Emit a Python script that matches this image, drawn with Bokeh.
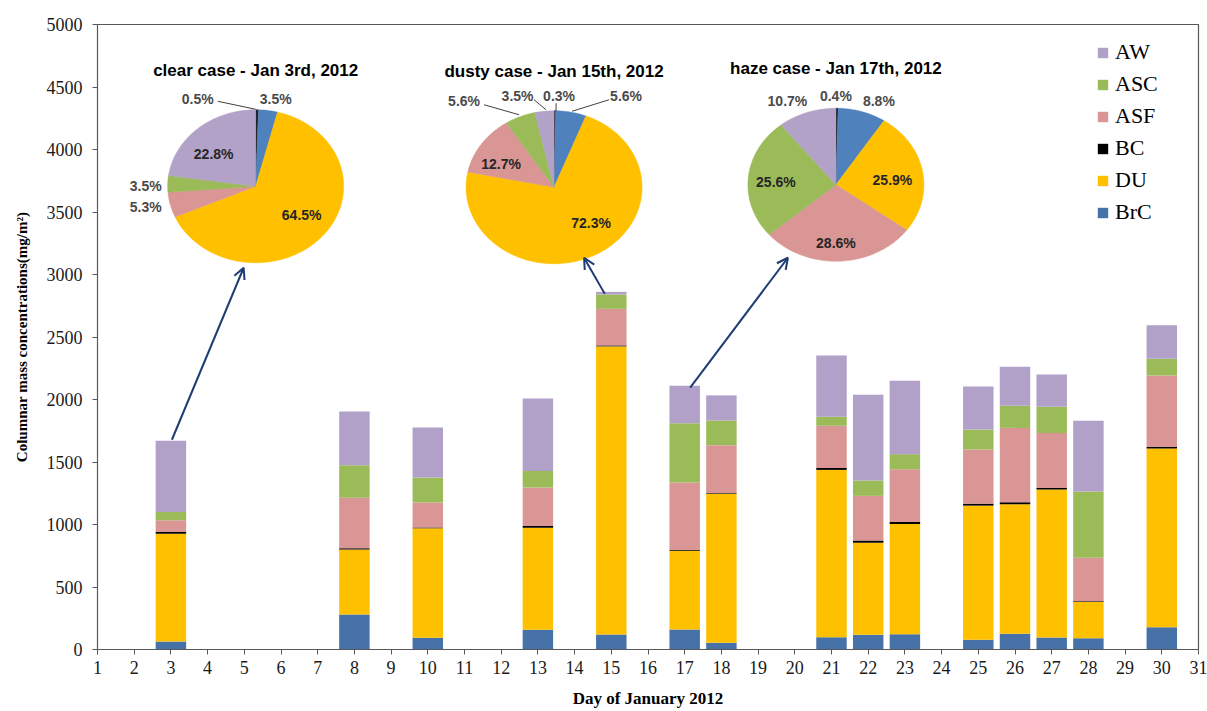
import numpy as np
from bokeh.plotting import figure
from bokeh.models import (ColumnDataSource, Range1d, FixedTicker, Legend, LegendItem,
                          Arrow, OpenHead)
from bokeh.core.properties import value
from bokeh.embed import file_html
from bokeh.resources import INLINE

# ---------------- data ----------------
days = [3, 8, 10, 13, 15, 17, 18, 21, 22, 23, 25, 26, 27, 28, 30]
BrC = [64, 280, 95, 158, 120, 160, 54, 99, 118, 123, 78, 126, 96, 91, 179]
DU = [863, 520, 875, 817, 2305, 630, 1193, 1338, 737, 881, 1073, 1036, 1184, 290, 1429]
BC = [13, 10, 6, 13, 8, 6, 5, 16, 18, 16, 16, 16, 13, 5, 13]
ASF = [94, 405, 200, 308, 292, 540, 383, 337, 356, 422, 433, 595, 440, 348, 572]
ASC = [66, 260, 200, 133, 115, 475, 197, 72, 123, 121, 160, 177, 209, 531, 133]
AW = [570, 430, 400, 580, 21, 300, 201, 491, 686, 587, 345, 312, 259, 565, 268]

species = ["BrC", "DU", "BC", "ASF", "ASC", "AW"]
bar_colors = ["#4672A8", "#FFC000", "#000000", "#D99694", "#9BBB59", "#B1A0C7"]

x_ticks = list(range(1, 32))
y_ticks = list(range(0, 5001, 500))

# pie charts (clockwise from 12 o'clock)
pie_order = ["BC", "BrC", "DU", "ASF", "ASC", "AW"]
pie_colors = ["#1A1A1A", "#4F81BD", "#FFC000", "#D99694", "#9BBB59", "#B3A2C7"]
pie_titles = ["clear case - Jan 3rd, 2012", "dusty case - Jan 15th, 2012",
              "haze case - Jan 17th, 2012"]
pie_days = [3, 15, 17]
clear_pct = [0.5, 3.5, 64.5, 5.3, 3.5, 22.8]
dusty_pct = [0.3, 5.6, 72.3, 12.7, 5.6, 3.5]
haze_pct = [0.4, 8.8, 25.9, 28.6, 25.6, 10.7]
pie_pcts = [clear_pct, dusty_pct, haze_pct]

# ---------------- layout constants ----------------
W, H = 1207, 711
BL, BR, BT, BB = 97, 9, 24, 62
FW, FH = W - BL - BR, H - BT - BB
X0, X1, Y0, Y1 = 1, 31, 0, 5000
DX = (X1 - X0) / FW      # days per px
DY = (Y1 - Y0) / FH      # units per px

def px(cx, cy, ox, oy):
    """offset in screen px (y downward) from a data point -> data coords"""
    return cx + ox * DX, cy - oy * DY

pie_centers = [(5.31, 3706), (13.44, 3698), (21.12, 3718)]
RX, RY = 88, 76.5

# label offsets (px) per pie, in pie_order
label_offsets = [
    [(-58, -87), (20, -87.5), (46, 29), (-110, 21), (-110, -0.5), (-42, -32.5)],
    [(5, -91.5), (72, -91), (37, 36), (-53, -23.5), (-90, -86), (-36.5, -91)],
    [(0, -88.5), (43, -83.5), (56.5, -5), (0, 58), (-60, -2.5), (-48.5, -83.5)],
]
inside_flags = [
    [False, False, True, False, False, True],
    [False, False, True, True, False, False],
    [False, False, True, True, True, False],
]
leaders = [
    [((-38, -85), (0, -77))],
    [((2, -84), (2, -76)), ((55, -87.5), (18, -76)), ((-70, -82.5), (-35, -72.5)),
     ((-20, -87.5), (-8, -77.5))],
    [],
]
arrow_start_off = [(1, -1), (-6.5, 2), (5.5, 2)]
arrow_end_off = [(-12, 81.5), (30, 70.5), (-48, 73)]

# ---------------- figure ----------------
p = figure(width=W, height=H, output_backend="svg", toolbar_location=None,
           x_range=Range1d(X0, X1), y_range=Range1d(Y0, Y1),
           min_border_left=BL, min_border_right=BR, min_border_top=BT,
           min_border_bottom=BB)
p.xgrid.visible = False
p.ygrid.visible = False
p.outline_line_color = "#595959"
p.outline_line_width = 1.2
p.background_fill_color = "white"
p.border_fill_color = "white"

src = ColumnDataSource(dict(day=days, BrC=BrC, DU=DU, BC=BC, ASF=ASF, ASC=ASC, AW=AW))
rends = p.vbar_stack(species, x="day", width=0.83, source=src,
                     color=bar_colors, line_color=None)

# axes
for ax in (p.xaxis[0], p.yaxis[0]):
    ax.axis_line_color = "#595959"
    ax.major_tick_line_color = "#595959"
    ax.major_tick_in = 0
    ax.major_tick_out = 5
    ax.minor_tick_line_color = None
    ax.major_label_text_font = "Liberation Serif"
    ax.major_label_text_font_size = "18px"
    ax.major_label_text_color = "#1a1a1a"
    ax.axis_label_text_font = "Liberation Serif"
    ax.axis_label_text_font_style = "bold"
    ax.axis_label_text_color = "black"

p.xaxis.ticker = FixedTicker(ticks=x_ticks)
p.yaxis.ticker = FixedTicker(ticks=y_ticks)
p.xaxis.axis_label = "Day of January 2012"
p.xaxis.axis_label_text_font_size = "17px"
p.xaxis.major_label_standoff = 6
p.xaxis.axis_label_standoff = 12
p.yaxis.axis_label = "Columnar mass concentrations(mg/m²)"
p.yaxis.axis_label_text_font_size = "15px"
p.yaxis.major_label_standoff = 10
p.yaxis.axis_label_standoff = 14

# legend
items = [LegendItem(label=species[i], renderers=[rends[i]]) for i in range(5, -1, -1)]
leg = Legend(items=items, location=(999, 424), orientation="vertical",
             padding=0, margin=0, spacing=6, label_height=25,
             glyph_width=13, glyph_height=13, label_standoff=6,
             border_line_color=None, background_fill_alpha=0,
             label_text_font="Liberation Serif", label_text_font_size="22px",
             label_text_color="black")
p.add_layout(leg)

# pies
for k in range(3):
    cx, cy = pie_centers[k]
    pct = np.array(pie_pcts[k], dtype=float)
    frac = pct / pct.sum()
    edges = np.concatenate([[0], np.cumsum(frac)])
    xs, ys = [], []
    for i in range(len(frac)):
        f = np.linspace(edges[i], edges[i + 1], max(4, int(frac[i] * 240)))
        th = np.pi / 2 - 2 * np.pi * f
        xx = np.concatenate([[cx], cx + RX * DX * np.cos(th)])
        yy = np.concatenate([[cy], cy + RY * DY * np.sin(th)])
        xs.append(list(xx))
        ys.append(list(yy))
    p.patches(xs, ys, fill_color=pie_colors, line_color=pie_colors, line_width=0.5)

    # leader lines
    for (a, b) in leaders[k]:
        x0, y0 = px(cx, cy, *a)
        x1, y1 = px(cx, cy, *b)
        p.line([x0, x1], [y0, y1], line_color="#404040", line_width=1)

    # labels
    lx, ly, lt, lc = [], [], [], []
    for i in range(len(pct)):
        x, y = px(cx, cy, *label_offsets[k][i])
        lx.append(x); ly.append(y)
        lt.append(f"{pie_pcts[k][i]:.1f}%")
        lc.append("#262626" if inside_flags[k][i] else "#4a4a4a")
    p.text(lx, ly, text=lt, text_color=lc, text_align="center", text_baseline="middle",
           text_font=value("Liberation Sans"), text_font_style="bold",
           text_font_size="14px")

    # title
    tx, ty = px(cx, cy, 0, -116)
    p.text([tx], [ty], text=[pie_titles[k]], text_color="black", text_align="center",
           text_baseline="middle", text_font=value("Liberation Sans"),
           text_font_style="bold", text_font_size="17px")

    # arrow from bar top to pie
    j = days.index(pie_days[k])
    total = BrC[j] + DU[j] + BC[j] + ASF[j] + ASC[j] + AW[j]
    sx, sy = px(pie_days[k], total, *arrow_start_off[k])
    ex, ey = px(cx, cy, *arrow_end_off[k])
    p.add_layout(Arrow(end=OpenHead(size=11, line_color="#1F3B73", line_width=2),
                       x_start=sx, y_start=sy, x_end=ex, y_end=ey,
                       line_color="#1F3B73", line_width=2))

open("out.html", "w").write(file_html(p, INLINE))
